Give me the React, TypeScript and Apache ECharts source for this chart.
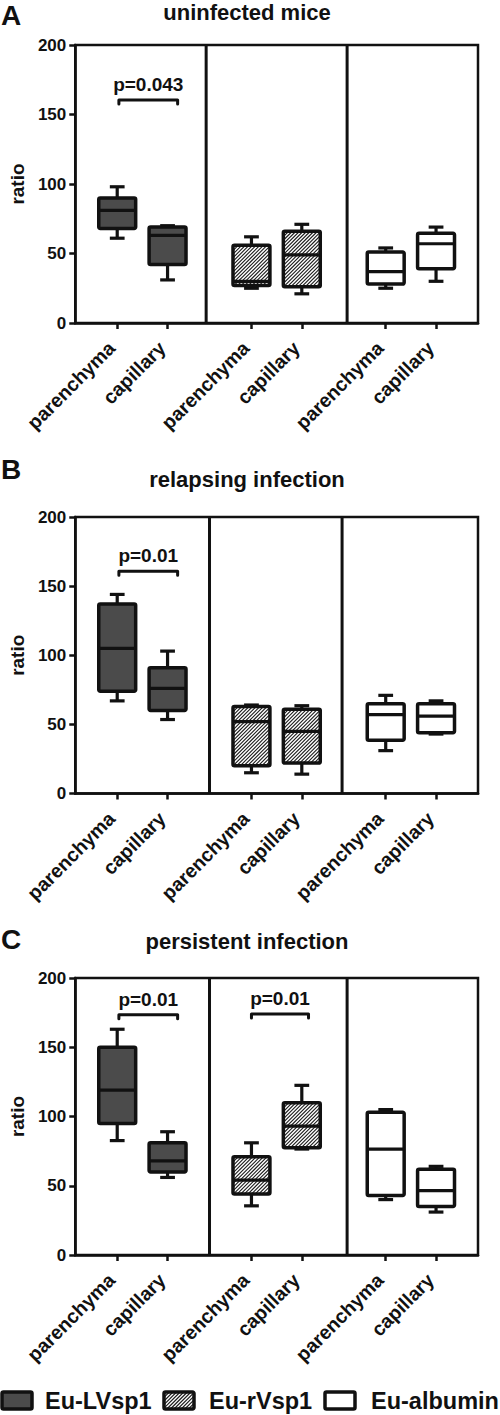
import React, { useEffect, useRef } from "react";
import * as echarts from "echarts";

// ---------- data ----------
const categories = ["parenchyma", "capillary"];
const legendNames = ["Eu-LVsp1", "Eu-rVsp1", "Eu-albumin"];
const panelTitles = ["uninfected mice", "relapsing infection", "persistent infection"];
const panelLetters = ["A", "B", "C"];
const yTicks = [0, 50, 100, 150, 200];
// x positions (axis units) of the six boxes and which reporter each belongs to
const boxPositions = [2.5, 5.5, 10.5, 13.5, 18.5, 21.5];
const boxGroups = [0, 0, 1, 1, 2, 2];

// [min, q1, median, q3, max]
const uninfected = [
  [61, 68, 81, 90, 98],
  [31, 42, 63, 69, 70],
  [25, 27, 30, 56, 62],
  [21, 26, 49, 66, 71],
  [25, 28, 37, 51, 54],
  [30, 39, 57, 64.5, 69],
];
const relapsing = [
  [67, 74, 105, 137, 144],
  [53.5, 60, 76, 91, 103],
  [15, 20, 52, 63, 64],
  [14, 22, 45, 61, 63.5],
  [31, 38.5, 57, 65, 71],
  [43, 44, 56, 65, 67],
];
const persistent = [
  [82.6, 95, 119, 150, 163],
  [56, 60, 68, 81, 89],
  [35.5, 44, 54, 71, 81],
  [76.5, 77.5, 93, 110, 122.5],
  [40, 43, 76.5, 103, 105],
  [31, 35, 46.5, 62, 64],
];

const dividersA = [7.8, 16.2];
const dividersB = [8.0, 15.9];
const dividersC = [8.0, 16.2];

// significance brackets: [xFrom, xTo, y]
const sigA = [[2.6, 6.1, 160.5]];
const sigLabelsA = ["p=0.043"];
const sigB = [[2.6, 6.1, 160.7]];
const sigLabelsB = ["p=0.01"];
const sigC = [
  [2.6, 6.1, 173.5],
  [10.5, 13.9, 174],
];
const sigLabelsC = ["p=0.01", "p=0.01"];

// ---------- styles / layout ----------
const FONT = '"Liberation Sans", Arial, Helvetica, sans-serif';
const INK = "#111111";
const FILLS = ["#4b4b4b", "#ffffff", "#ffffff"];

const panels = [
  { top: 45, height: 278, data: uninfected, dividers: dividersA, sig: sigA, sigLabels: sigLabelsA, titleY: 12, letterY: 15 },
  { top: 517, height: 276.5, data: relapsing, dividers: dividersB, sig: sigB, sigLabels: sigLabelsB, titleY: 479, letterY: 469 },
  { top: 978, height: 277, data: persistent, dividers: dividersC, sig: sigC, sigLabels: sigLabelsC, titleY: 941, letterY: 939 },
];

const GRID_LEFT = 63;
const GRID_RIGHT = 22;
const H = 1415;
const W = 500;
const HATCH_STEP = 3.6;

function hatchLines(x0: number, y0: number, w: number, h: number, step: number) {
  const out: any[] = [];
  for (let c = x0 + y0 + step / 2; c < x0 + w + y0 + h; c += step) {
    const xa = Math.max(x0, c - (y0 + h));
    const xb = Math.min(x0 + w, c - y0);
    if (xb > xa) {
      out.push({
        type: "line",
        shape: { x1: xa, y1: c - xa, x2: xb, y2: c - xb },
        style: { stroke: "#1a1a1a", lineWidth: 1.1 },
      });
    }
  }
  return out;
}

const renderBox = (params: any, api: any) => {
  const x = api.value(0);
  const vMin = api.value(1);
  const vQ1 = api.value(2);
  const vMed = api.value(3);
  const vQ3 = api.value(4);
  const vMax = api.value(5);
  const kind = api.value(6);
  const cx = api.coord([x, vMed])[0];
  const yMin = api.coord([x, vMin])[1];
  const yQ1 = api.coord([x, vQ1])[1];
  const yMed = api.coord([x, vMed])[1];
  const yQ3 = api.coord([x, vQ3])[1];
  const yMax = api.coord([x, vMax])[1];
  const hw = (api.coord([x + 1.1, 0])[0] - api.coord([x - 1.1, 0])[0]) / 2;
  const cw = hw * 0.4;
  const ls = { stroke: INK, lineWidth: 3.2 };
  const children: any[] = [
    { type: "line", shape: { x1: cx, y1: yQ3, x2: cx, y2: yMax }, style: ls },
    { type: "line", shape: { x1: cx - cw, y1: yMax, x2: cx + cw, y2: yMax }, style: ls },
    { type: "line", shape: { x1: cx, y1: yQ1, x2: cx, y2: yMin }, style: ls },
    { type: "line", shape: { x1: cx - cw, y1: yMin, x2: cx + cw, y2: yMin }, style: ls },
    {
      type: "rect",
      shape: { x: cx - hw, y: yQ3, width: 2 * hw, height: yQ1 - yQ3 },
      style: { fill: FILLS[kind], stroke: "none" },
    },
  ];
  if (kind === 1) {
    children.push(...hatchLines(cx - hw, yQ3, 2 * hw, yQ1 - yQ3, HATCH_STEP));
  }
  children.push({
    type: "rect",
    shape: { x: cx - hw, y: yQ3, width: 2 * hw, height: yQ1 - yQ3, r: 1.5 },
    style: { fill: "none", stroke: INK, lineWidth: 3.5 },
  });
  children.push({ type: "line", shape: { x1: cx - hw, y1: yMed, x2: cx + hw, y2: yMed }, style: ls });
  return { type: "group", children };
};

const renderDivider = (params: any, api: any) => {
  const x = api.value(0);
  const p0 = api.coord([x, 0]);
  const p1 = api.coord([x, 200]);
  return {
    type: "line",
    shape: { x1: p0[0], y1: p0[1], x2: p1[0], y2: p1[1] },
    style: { stroke: INK, lineWidth: 3 },
  };
};

const makeBracketRenderer = (labels: string[]) => (params: any, api: any) => {
  const x1 = api.value(0);
  const x2 = api.value(1);
  const y = api.value(2);
  const a = api.coord([x1, y]);
  const b = api.coord([x2, y]);
  return {
    type: "group",
    children: [
      {
        type: "polyline",
        shape: { points: [[a[0], a[1] + 4], [a[0], a[1]], [b[0], b[1]], [b[0], b[1] + 4]] },
        style: { stroke: INK, lineWidth: 3, fill: "none", lineCap: "round", lineJoin: "round" },
      },
      {
        type: "text",
        style: {
          text: labels[params.dataIndex],
          x: (a[0] + b[0]) / 2,
          y: a[1] - 6,
          fill: INK,
          font: `bold 19px ${FONT}`,
          align: "center",
          verticalAlign: "bottom",
        },
      },
    ],
  };
};

function labelFor(v: number) {
  let best = 0;
  for (let i = 0; i < boxPositions.length; i++) {
    if (Math.abs(boxPositions[i] - v) < Math.abs(boxPositions[best] - v)) best = i;
  }
  return categories[best % 2];
}

function buildOption() {
  const grid: any[] = [];
  const xAxis: any[] = [];
  const yAxis: any[] = [];
  const series: any[] = [];
  const graphic: any[] = [];

  panels.forEach((p, i) => {
    grid.push({
      left: GRID_LEFT,
      right: GRID_RIGHT,
      top: p.top,
      height: p.height,
      show: true,
      borderColor: INK,
      borderWidth: 2.5,
      backgroundColor: "transparent",
    });
    xAxis.push({
      type: "value",
      gridIndex: i,
      min: 0,
      max: 24,
      splitLine: { show: false },
      axisLine: { show: true, onZero: false, lineStyle: { color: INK, width: 2.5 } },
      axisTick: {
        show: true,
        customValues: boxPositions,
        length: 6,
        lineStyle: { color: INK, width: 2.5 },
      },
      axisLabel: {
        show: true,
        customValues: boxPositions,
        rotate: 45,
        margin: 16,
        padding: [0, 8, 0, 0],
        formatter: (v: number) => labelFor(v),
        color: INK,
        fontWeight: "bold",
        fontSize: 19.5,
        fontFamily: FONT,
      },
    });
    yAxis.push({
      type: "value",
      gridIndex: i,
      min: 0,
      max: 200,
      interval: 50,
      name: "ratio",
      nameLocation: "middle",
      nameGap: 46,
      nameTextStyle: { color: INK, fontWeight: "bold", fontSize: 19, fontFamily: FONT },
      splitLine: { show: false },
      axisLine: { show: true, onZero: false, lineStyle: { color: INK, width: 2.5 } },
      axisTick: { show: true, length: 6, lineStyle: { color: INK, width: 2.5 } },
      axisLabel: {
        margin: 9,
        color: INK,
        fontWeight: "bold",
        fontSize: 17,
        fontFamily: FONT,
        formatter: (v: number) => (yTicks.includes(v) ? String(v) : ""),
      },
    });
    series.push({
      type: "custom",
      name: "dividers-" + i,
      xAxisIndex: i,
      yAxisIndex: i,
      silent: true,
      renderItem: renderDivider,
      data: p.dividers.map((d) => [d]),
      encode: { x: 0 },
    });
    series.push({
      type: "custom",
      name: "boxes-" + i,
      xAxisIndex: i,
      yAxisIndex: i,
      silent: true,
      renderItem: renderBox,
      data: p.data.map((b, j) => [boxPositions[j], ...b, boxGroups[j]]),
      encode: { x: 0, y: [1, 2, 3, 4, 5] },
      z: 3,
    });
    series.push({
      type: "custom",
      name: "sig-" + i,
      xAxisIndex: i,
      yAxisIndex: i,
      silent: true,
      renderItem: makeBracketRenderer(p.sigLabels),
      data: p.sig,
      encode: { x: [0, 1], y: 2 },
      z: 4,
    });
    graphic.push({
      type: "text",
      style: {
        text: panelLetters[i],
        x: 1,
        y: p.letterY,
        fill: INK,
        font: `bold 28px ${FONT}`,
        align: "left",
        verticalAlign: "middle",
      },
    });
    graphic.push({
      type: "text",
      style: {
        text: panelTitles[i],
        x: 247,
        y: p.titleY,
        fill: INK,
        font: `bold 22px ${FONT}`,
        align: "center",
        verticalAlign: "middle",
      },
    });
  });

  // legend
  const legendBoxes = [
    { x: 2, textX: 45 },
    { x: 164, textX: 209 },
    { x: 325, textX: 371 },
  ];
  const ly = 1392;
  const lw = 30;
  const lh = 17;
  legendBoxes.forEach((lb, k) => {
    graphic.push({
      type: "rect",
      shape: { x: lb.x, y: ly, width: lw, height: lh },
      style: { fill: FILLS[k], stroke: "none" },
    });
    if (k === 1) {
      hatchLines(lb.x, ly, lw, lh, HATCH_STEP).forEach((l) => graphic.push(l));
    }
    graphic.push({
      type: "rect",
      shape: { x: lb.x, y: ly, width: lw, height: lh, r: 1.5 },
      style: { fill: "none", stroke: INK, lineWidth: 3.5 },
    });
    graphic.push({
      type: "text",
      style: {
        text: legendNames[k],
        x: lb.textX,
        y: ly + lh / 2,
        fill: INK,
        font: `bold 23.5px ${FONT}`,
        align: "left",
        verticalAlign: "middle",
      },
    });
  });

  return {
    animation: false,
    backgroundColor: "#ffffff",
    grid,
    xAxis,
    yAxis,
    series,
    graphic,
  };
}

export default function App() {
  const ref = useRef<HTMLDivElement>(null);
  useEffect(() => {
    if (!ref.current) return;
    const chart = echarts.init(ref.current, null, { renderer: "svg" });
    chart.setOption(buildOption() as any);
    return () => chart.dispose();
  }, []);
  return (
    <div
      ref={ref}
      style={{ position: "absolute", left: 0, top: 0, width: W, height: H, background: "#fff" }}
    />
  );
}
